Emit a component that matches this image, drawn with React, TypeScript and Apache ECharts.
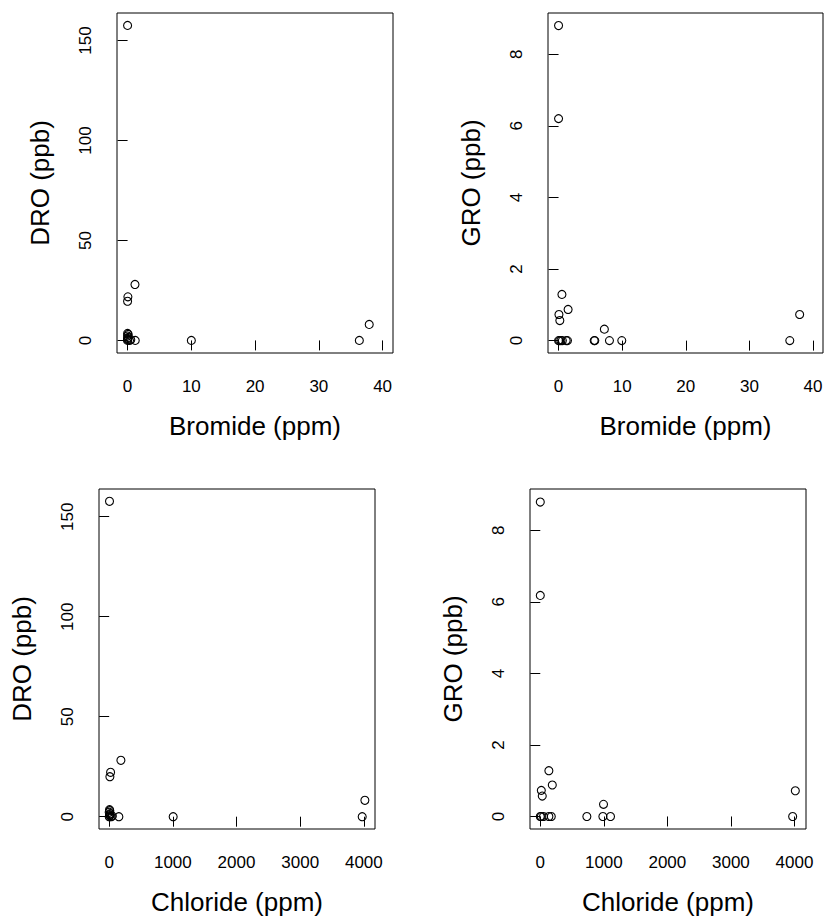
import React, { useEffect, useRef } from "react";
import * as echarts from "echarts";

// Panel 1: Bromide vs DRO
const brDroX = [0, 1.16, 0.05, 0, 0, 0, 0, 0.1, 0, 0.1, 0, 0.3, 0.5, 1.2, 10, 36.35, 37.9];
const brDroY = [157.6, 28, 21.8, 19.6, 0, 0.5, 1, 1.5, 2.2, 3, 3.5, 0, 0.3, 0, 0, 0, 8];
// Panel 2: Bromide vs GRO
const brGroX = [0, 0, 0.53, 1.5, 0.06, 0.2, 0, 0.15, 0.37, 0.6, 1.2, 1.4, 5.6, 5.7, 7.2, 8.0, 9.94, 36.35, 37.9];
const brGroY = [8.8, 6.2, 1.29, 0.87, 0.73, 0.56, 0, 0, 0, 0, 0, 0, 0, 0, 0.32, 0, 0, 0, 0.73];
// Panel 3: Chloride vs DRO
const clDroX = [5, 184, 22, 11, 0, 10, 5, 15, 0, 10, 5, 30, 50, 152, 1005, 3974, 4016];
const clDroY = [157.7, 28.2, 22.2, 20, 0, 0.5, 1, 1.5, 2.2, 3, 3.5, 0, 0.3, 0, 0, 0, 8.2];
// Panel 4: Chloride vs GRO
const clGroX = [0, 0, 135, 189, 16, 31, 0, 16, 50, 135, 173, 733, 985, 995, 1105, 3972, 4014];
const clGroY = [8.79, 6.18, 1.28, 0.88, 0.73, 0.57, 0, 0, 0, 0, 0, 0, 0, 0.34, 0, 0, 0.72];

// Tick labels
const bromideTicks = [0, 10, 20, 30, 40];
const chlorideTicks = [0, 1000, 2000, 3000, 4000];
const droTicks = [0, 50, 100, 150];
const groTicks = [0, 2, 4, 6, 8];

const FONT = "'Liberation Sans', Arial, Helvetica, sans-serif";

const panels = [
  { xs: brDroX, ys: brDroY, xt: bromideTicks, yt: droTicks, xName: "Bromide (ppm)", yName: "DRO (ppb)",
    grid: { left: 117, top: 13, width: 276, height: 340 }, xr: [-1.66, 41.63], yr: [-6.3, 163.8] },
  { xs: brGroX, ys: brGroY, xt: bromideTicks, yt: groTicks, xName: "Bromide (ppm)", yName: "GRO (ppb)",
    grid: { left: 548, top: 13, width: 275, height: 340 }, xr: [-1.66, 41.57], yr: [-0.346, 9.15] },
  { xs: clDroX, ys: clDroY, xt: chlorideTicks, yt: droTicks, xName: "Chloride (ppm)", yName: "DRO (ppb)",
    grid: { left: 99, top: 489, width: 276, height: 340 }, xr: [-160, 4175], yr: [-6.15, 163.85] },
  { xs: clGroX, ys: clGroY, xt: chlorideTicks, yt: groTicks, xName: "Chloride (ppm)", yName: "GRO (ppb)",
    grid: { left: 530, top: 489, width: 276, height: 340 }, xr: [-162, 4182], yr: [-0.35, 9.155] },
];

const plain = (v: number) => String(v);

export default function App() {
  const ref = useRef<HTMLDivElement>(null);
  useEffect(() => {
    if (!ref.current) return;
    const chart = echarts.init(ref.current, null, { renderer: "svg" });
    const option: any = {
      animation: false,
      backgroundColor: "#ffffff",
      textStyle: { fontFamily: FONT, color: "#000" },
      grid: panels.map((p) => ({
        ...p.grid,
        show: true,
        borderColor: "#000",
        borderWidth: 1,
        backgroundColor: "transparent",
        containLabel: false,
      })),
      xAxis: panels.map((p, i) => ({
        type: "value",
        gridIndex: i,
        min: p.xr[0],
        max: p.xr[1],
        axisLine: { show: false },
        splitLine: { show: false },
        axisTick: { show: true, length: 10, lineStyle: { color: "#000", width: 1 }, customValues: p.xt },
        axisLabel: { show: true, customValues: p.xt, formatter: plain, fontSize: 17, color: "#000", fontFamily: FONT, margin: 25 },
        name: p.xName,
        nameLocation: "middle",
        nameGap: 60,
        nameTextStyle: { fontSize: 26, color: "#000", fontFamily: FONT },
      })),
      yAxis: panels.map((p, i) => ({
        type: "value",
        gridIndex: i,
        min: p.yr[0],
        max: p.yr[1],
        axisLine: { show: false },
        splitLine: { show: false },
        axisTick: { show: true, length: 10, lineStyle: { color: "#000", width: 1 }, customValues: p.yt },
        axisLabel: { show: true, customValues: p.yt, formatter: plain, rotate: 90, fontSize: 17, color: "#000", fontFamily: FONT, margin: 23 },
        name: p.yName,
        nameLocation: "middle",
        nameGap: 64,
        nameTextStyle: { fontSize: 26, color: "#000", fontFamily: FONT },
      })),
      series: panels.map((p, i) => ({
        type: "scatter",
        xAxisIndex: i,
        yAxisIndex: i,
        symbol: "circle",
        symbolSize: 8,
        itemStyle: { color: "transparent", borderColor: "#000", borderWidth: 1.1, opacity: 1 },
        emphasis: { disabled: true },
        data: p.xs.map((x, k) => [x, p.ys[k]]),
      })),
    };
    chart.setOption(option);
    return () => chart.dispose();
  }, []);
  return (
    <div
      ref={ref}
      style={{ position: "absolute", left: 0, top: 0, width: 826, height: 918, background: "#fff" }}
    />
  );
}
